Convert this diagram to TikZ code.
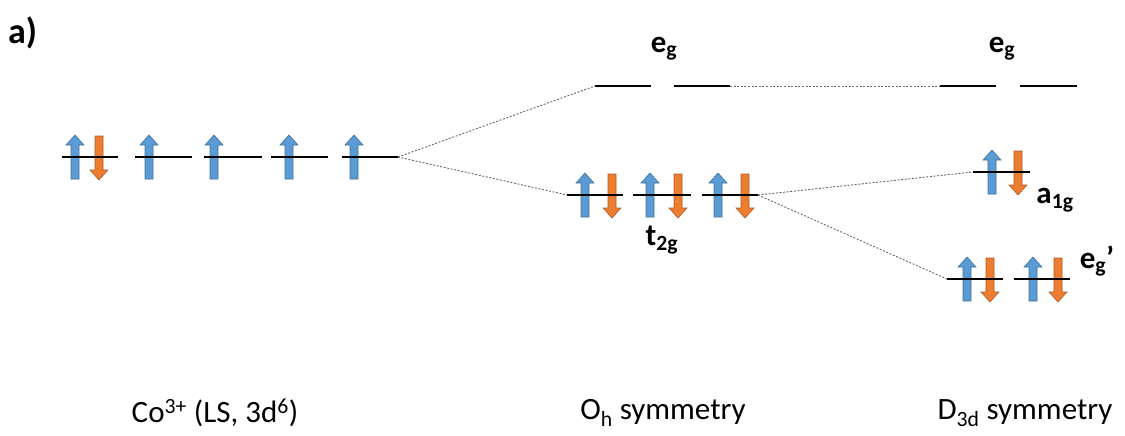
\documentclass[tikz,border=0pt]{standalone}
\usepackage{fontspec}
\setmainfont{Carlito}
\definecolor{spinblue}{HTML}{5B9BD5}
\definecolor{spinblueline}{HTML}{41719C}
\definecolor{spinorange}{HTML}{ED7D31}
\definecolor{spinorangeline}{HTML}{AE5A21}
\begin{document}
\begin{tikzpicture}[x=1pt,y=-1pt,
  level/.style={line width=2.2pt,black},
  split/.style={black!60,line width=0.9pt,dash pattern=on 2pt off 1.6pt},
  label/.style={font=\fontsize{31}{33}\selectfont\bfseries,inner sep=0pt},
  caption/.style={font=\fontsize{31}{33}\selectfont,inner sep=0pt},
  up/.pic={\filldraw[fill=spinblue,draw=spinblueline,line width=0.6pt]
     (-4,22) -- (-4,-12) -- (-9,-12) -- (0,-22) -- (9,-12) -- (4,-12) -- (4,22) -- cycle;},
  down/.pic={\filldraw[fill=spinorange,draw=spinorangeline,line width=0.6pt]
     (-4,-21) -- (-4,13) -- (-9,13) -- (0,23) -- (9,13) -- (4,13) -- (4,-21) -- cycle;}]
\useasboundingbox (0,0) rectangle (1125,436);

\node[font=\fontsize{36}{38}\selectfont\bfseries,inner sep=0pt,anchor=west] (tag) at (8,33) {a)};

% free ion: five degenerate d levels
\pic at (75,157) {up};
\pic at (99,157) {down};
\pic at (149,157) {up};
\pic at (214,157) {up};
\pic at (289,157) {up};
\pic at (354,157) {up};
\draw[level] (62,157) -- (118,157);
\draw[level] (135,157) -- (192,157);
\draw[level] (204,157) -- (262,157);
\draw[level] (271,157) -- (328,157);
\draw[level] (342,157) -- (398,157) coordinate (freeR);

% octahedral field
\draw[level] (595,86) coordinate (ohegL) -- (651,86);
\draw[level] (674,86) -- (730,86) coordinate (ohegR);
\pic at (585,195) {up};  \pic at (612,195) {down};
\pic at (650,195) {up};  \pic at (678,195) {down};
\pic at (718,195) {up};  \pic at (745,195) {down};
\draw[level] (567,195) coordinate (ohtL) -- (623,195);
\draw[level] (633,195) -- (691,195);
\draw[level] (702,195) -- (758,195) coordinate (ohtR);

% trigonal field
\draw[level] (940,86) coordinate (degL) -- (996,86);
\draw[level] (1020,86) -- (1077,86);
\pic at (992,172) {up};  \pic at (1018,172) {down};
\draw[level] (973,172) coordinate (daL) -- (1030,172);
\pic at (967,279) {up};  \pic at (990,279) {down};
\pic at (1033,279) {up}; \pic at (1058,279) {down};
\draw[level] (947,279) coordinate (depL) -- (1003,279);
\draw[level] (1014,279) -- (1070,279);

% correlation lines
\draw[split] (freeR) -- (ohegL);
\draw[split] (freeR) -- (ohtL);
\draw[split] (ohegR) -- (degL);
\draw[split] (ohtR) -- (daL);
\draw[split] (ohtR) -- (depL);

% level labels
\node[label] (eg1) at (664,49) {e\textsubscript{g}};
\node[label] (t2g) at (662,240) {t\textsubscript{2g}};
\node[label] (eg2) at (1002,49) {e\textsubscript{g}};
\node[label] (a1g) at (1055,200) {a\textsubscript{1g}};
\node[label] (egp) at (1097,261) {e\textsubscript{g}’};

% captions
\node[caption] (c1) at (215,413) {Co\textsuperscript{3+} (LS, 3d\textsuperscript{6})};
\node[caption] (c2) at (663,413) {O\textsubscript{h} symmetry};
\node[caption] (c3) at (1025,413) {D\textsubscript{3d} symmetry};
\end{tikzpicture}
\end{document}
